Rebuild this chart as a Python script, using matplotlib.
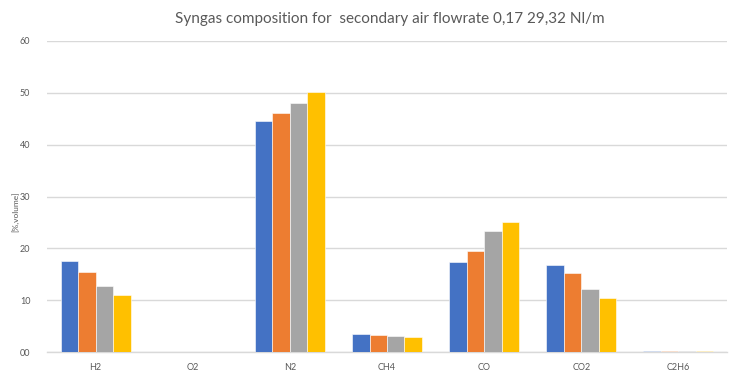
import numpy as np
import matplotlib
matplotlib.use('Agg')
import matplotlib.pyplot as plt

# Gas species on the x axis
species = ['H2', 'O2', 'N2', 'CH4', 'CO', 'CO2', 'C2H6']

# Volume fractions [%] for the four test points
test_1 = [17.6, 0.0, 44.5, 3.4, 17.4, 16.7, 0.25]
test_2 = [15.4, 0.0, 46.2, 3.2, 19.4, 15.3, 0.25]
test_3 = [12.8, 0.0, 48.0, 3.0, 23.4, 12.2, 0.2]
test_4 = [11.0, 0.0, 50.1, 2.8, 25.0, 10.4, 0.25]

y_ticks = [0, 10, 20, 30, 40, 50, 60]
y_tick_labels = ['00', '10', '20', '30', '40', '50', '60']

series = [test_1, test_2, test_3, test_4]
colors = ['#4472C4', '#ED7D31', '#A5A5A5', '#FFC000']

plt.rcParams['font.family'] = ['Lato', 'DejaVu Sans']

fig = plt.figure(figsize=(7.29, 3.72), dpi=100)
ax = fig.add_axes([47 / 729, 1 - 352 / 372, 680 / 729, 311 / 372])

x = np.arange(len(species))
width = 0.18
for i, (vals, c) in enumerate(zip(series, colors)):
    ax.bar(x + (i - 1.5) * width, vals, width, color=c,
           edgecolor='white', linewidth=0.4, zorder=3)

ax.set_xlim(-0.5, len(species) - 0.5)
ax.set_ylim(0, 60)
ax.set_yticks(y_ticks)
ax.set_yticklabels(y_tick_labels)
ax.set_xticks(x)
ax.set_xticklabels(species)
ax.tick_params(axis='both', length=0, labelsize=6.5, colors='#595959', pad=8)
ax.tick_params(axis='y', pad=12)

ax.grid(axis='y', color='#D9D9D9', linewidth=1.0, zorder=0)
for side in ['top', 'right', 'left']:
    ax.spines[side].set_visible(False)
ax.spines['bottom'].set_color('#D9D9D9')
ax.spines['bottom'].set_linewidth(1.0)

fig.text(15 / 729, 1 - 212 / 372, '[%,volume]', rotation=90,
         ha='center', va='center', fontsize=6, color='#595959')
fig.text(390 / 729, 1 - 19 / 372, 'Syngas composition for  secondary air flowrate 0,17 29,32 Nl/m',
         ha='center', va='center', fontsize=11, color='#595959')

fig.savefig('out.png', dpi=100)
